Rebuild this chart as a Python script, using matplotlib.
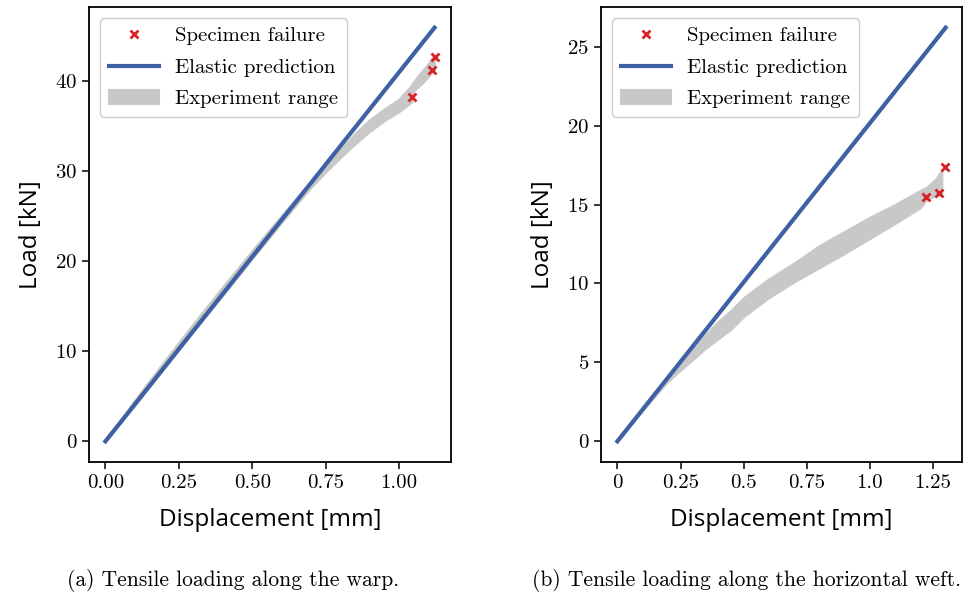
import matplotlib
matplotlib.use("Agg")
import matplotlib.pyplot as plt
import numpy as np

# --- (a) warp ---
warp_elastic_x = [0.0, 1.12]
warp_elastic_y = [0.0, 45.9]

warp_band_x = [0.0, 0.1, 0.2, 0.3, 0.4, 0.5, 0.6, 0.7, 0.75, 0.8, 0.85, 0.9,
               0.95, 1.0, 1.044, 1.046, 1.06, 1.08, 1.1, 1.113, 1.12]
warp_band_lo = [0.0, 4.0, 8.1, 12.2, 16.2, 20.3, 24.3, 28.2, 29.9, 31.5, 33.0, 34.4,
                35.6, 36.6, 37.7, 38.8, 39.2, 39.8, 40.5, 41.1, 41.2]
warp_band_hi = [0.0, 4.6, 8.9, 13.1, 17.2, 21.2, 25.1, 28.9, 30.6, 32.4, 34.2, 35.7,
                36.9, 38.0, 39.6, 39.8, 40.4, 41.2, 42.0, 42.6, 42.8]

warp_fail_x = [1.044, 1.113, 1.12]
warp_fail_y = [38.2, 41.2, 42.7]

# --- (b) weft ---
weft_elastic_x = [0.0, 1.30]
weft_elastic_y = [0.0, 26.2]

weft_band_x = [0.0, 0.1, 0.2, 0.25, 0.3, 0.35, 0.4, 0.45, 0.5, 0.6, 0.7, 0.8,
               0.9, 1.0, 1.1, 1.2, 1.224, 1.26, 1.285]
weft_band_lo = [0.0, 1.95, 3.8, 4.5, 5.2, 5.9, 6.5, 7.1, 7.9, 9.1, 10.1, 11.0,
                11.9, 12.85, 13.8, 14.8, 15.3, 15.55, 15.7]
weft_band_hi = [0.0, 2.1, 4.15, 5.0, 5.9, 6.8, 7.6, 8.3, 9.1, 10.3, 11.3, 12.4,
                13.3, 14.2, 15.0, 15.9, 16.1, 16.6, 17.2]

weft_fail_x = [1.224, 1.275, 1.297]
weft_fail_y = [15.45, 15.7, 17.35]

weft_xticks = [0, 0.25, 0.5, 0.75, 1.0, 1.25]
weft_xticklabels = ["0", "0.25", "0.5", "0.75", "1.0", "1.25"]

serif = "cmr10"
sans = "Open Sans"
blue = "#3d61a3"
grey = "#c8c8c8"
red = "#d62228"

plt.rcParams["font.family"] = [serif, "DejaVu Serif"]
plt.rcParams["axes.formatter.use_mathtext"] = True

fig = plt.figure(figsize=(9.69, 5.98), dpi=100)
ax1 = fig.add_axes([0.0918, 0.2274, 0.3736, 0.7609])
ax2 = fig.add_axes([0.6202, 0.2274, 0.3726, 0.7609])


def draw(ax, bx, lo, hi, ex, ey, fx, fy):
    ax.fill_between(bx, lo, hi, color=grey, lw=1.5, edgecolor=grey, label="Experiment range")
    ax.plot(ex, ey, color=blue, lw=3.0, label="Elastic prediction")
    ax.plot(fx, fy, ls="none", marker="x", ms=5.5, mew=2, color=red, label="Specimen failure")
    h, l = ax.get_legend_handles_labels()
    order = [2, 1, 0]
    ax.legend([h[i] for i in order], [l[i] for i in order], loc="upper left",
              fontsize=15, handlelength=2.4, edgecolor="#cccccc", framealpha=1,
              borderaxespad=0.55, labelspacing=0.62)
    ax.set_xlabel("Displacement [mm]", family=sans, fontsize=17.5, labelpad=12)
    ax.set_ylabel("Load [kN]", family=sans, fontsize=17.5, labelpad=9)
    ax.tick_params(labelsize=15, length=5, width=1.1)
    for s in ax.spines.values():
        s.set_linewidth(1.3)


draw(ax1, warp_band_x, warp_band_lo, warp_band_hi, warp_elastic_x, warp_elastic_y,
     warp_fail_x, warp_fail_y)
ax1.set_xticks([0, 0.25, 0.5, 0.75, 1.0])
ax1.set_xticklabels(["0.00", "0.25", "0.50", "0.75", "1.00"])
ax1.set_yticks([0, 10, 20, 30, 40])

draw(ax2, weft_band_x, weft_band_lo, weft_band_hi, weft_elastic_x, weft_elastic_y,
     weft_fail_x, weft_fail_y)
ax2.set_xticks(weft_xticks)
ax2.set_xticklabels(weft_xticklabels)
ax2.set_yticks([0, 5, 10, 15, 20, 25])

fig.text(233 / 969, 1 - 580 / 598, "(a) Tensile loading along the warp.",
         ha="center", va="center", fontsize=15.5)
fig.text(747 / 969, 1 - 580 / 598, "(b) Tensile loading along the horizontal weft.",
         ha="center", va="center", fontsize=15.5)

fig.savefig("out.png", dpi=100)
